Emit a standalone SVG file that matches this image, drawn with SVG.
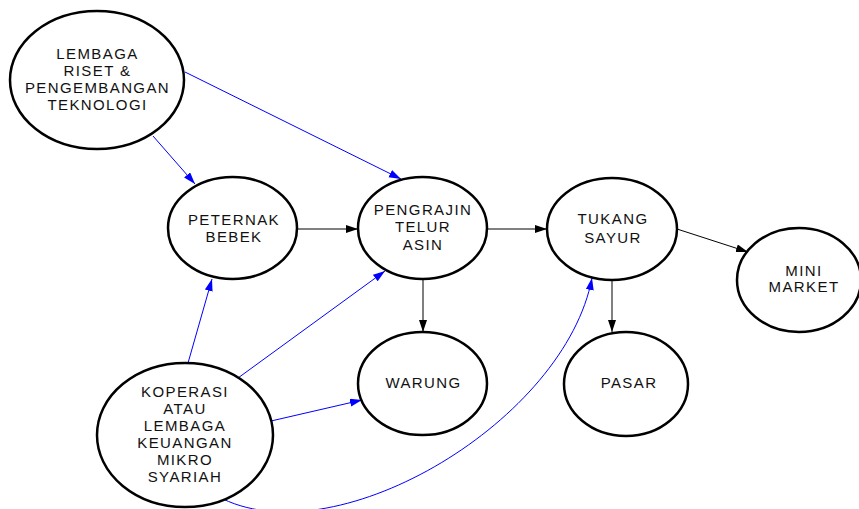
<svg xmlns="http://www.w3.org/2000/svg" width="859" height="509" viewBox="0 0 859 509">
<style>
.node ellipse{fill:#fff;stroke:#000;stroke-width:2.5}
.node text{font-family:"Liberation Sans",Arial,sans-serif;font-size:15px;letter-spacing:1.4px;fill:#111;text-anchor:middle}
.k{stroke:#000;stroke-width:1;fill:none}
.b{stroke:#0000ff;stroke-width:1;fill:none}
</style>
<defs>
<marker id="ak" markerUnits="userSpaceOnUse" markerWidth="13" markerHeight="9" refX="12" refY="4" orient="auto"><path d="M0,0 L12,4 L0,8 z" fill="#000"/></marker>
<marker id="ab" markerUnits="userSpaceOnUse" markerWidth="13" markerHeight="9" refX="12" refY="4" orient="auto"><path d="M0,0 L12,4 L0,8 z" fill="#0000ff"/></marker>
</defs>
<rect width="859" height="509" fill="#fff"/>
<g id="connectors">
<line class="b" x1="153" y1="136" x2="195" y2="184" marker-end="url(#ab)"/>
<line class="b" x1="185" y1="72" x2="401" y2="179" marker-end="url(#ab)"/>
<line class="k" x1="297" y1="229" x2="358" y2="229" marker-end="url(#ak)"/>
<line class="k" x1="487" y1="229" x2="547" y2="229" marker-end="url(#ak)"/>
<line class="k" x1="677" y1="229" x2="748" y2="252" marker-end="url(#ak)"/>
<line class="k" x1="423" y1="280" x2="423" y2="332" marker-end="url(#ak)"/>
<line class="k" x1="612" y1="280" x2="612" y2="332" marker-end="url(#ak)"/>
<line class="b" x1="188" y1="363" x2="212" y2="279" marker-end="url(#ab)"/>
<line class="b" x1="238" y1="378" x2="385" y2="271" marker-end="url(#ab)"/>
<line class="b" x1="271" y1="421" x2="362" y2="400" marker-end="url(#ab)"/>
<path class="b" d="M223,499 C340,555 565,420 592,278" marker-end="url(#ab)"/>
</g>
<g id="lembaga" class="node"><ellipse cx="97" cy="80" rx="87" ry="69"/>
<text x="97.5" y="59">LEMBAGA</text><text x="97.5" y="76">RISET &amp;</text><text x="97.5" y="93">PENGEMBANGAN</text><text x="97.5" y="110">TEKNOLOGI</text></g>
<g id="peternak" class="node"><ellipse cx="232.5" cy="228" rx="64.5" ry="51"/>
<text x="234" y="225">PETERNAK</text><text x="234" y="242">BEBEK</text></g>
<g id="pengrajin" class="node"><ellipse cx="422.5" cy="228" rx="64.5" ry="51"/>
<text x="423" y="215">PENGRAJIN</text><text x="423" y="232">TELUR</text><text x="423" y="250">ASIN</text></g>
<g id="tukang" class="node"><ellipse cx="612" cy="229" rx="65" ry="51"/>
<text x="613" y="224">TUKANG</text><text x="613" y="243">SAYUR</text></g>
<g id="minimarket" class="node"><ellipse cx="799" cy="280" rx="62" ry="52"/>
<text x="804" y="276">MINI</text><text x="804" y="292">MARKET</text></g>
<g id="warung" class="node"><ellipse cx="422.5" cy="383.5" rx="64.5" ry="51.5"/>
<text x="423.5" y="388">WARUNG</text></g>
<g id="pasar" class="node"><ellipse cx="626" cy="384" rx="62" ry="52"/>
<text x="629" y="388">PASAR</text></g>
<g id="koperasi" class="node"><ellipse cx="185" cy="435" rx="88" ry="72"/>
<text x="185" y="397">KOPERASI</text><text x="185" y="414">ATAU</text><text x="185" y="431">LEMBAGA</text><text x="185" y="448">KEUANGAN</text><text x="185" y="465">MIKRO</text><text x="185" y="482">SYARIAH</text></g>
</svg>
